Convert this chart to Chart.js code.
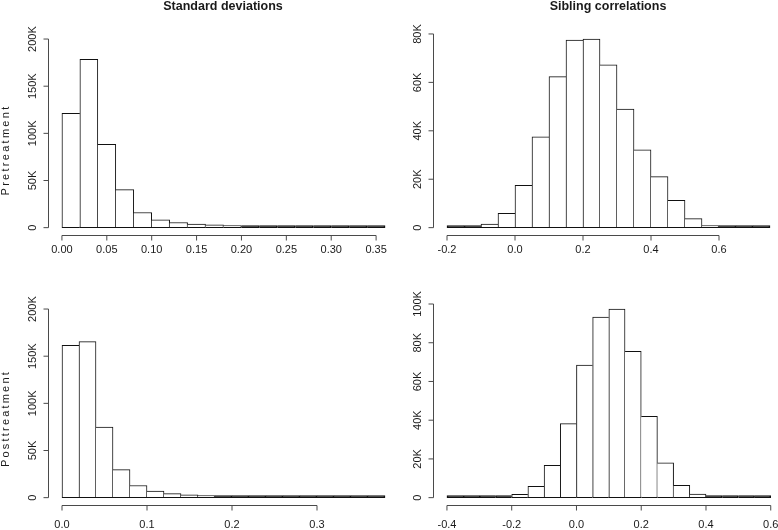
<!DOCTYPE html>
<html>
<head>
<meta charset="utf-8">
<script src="https://cdn.jsdelivr.net/npm/chart.js@4"></script>
<style>
  html, body { margin: 0; padding: 0; background: #fff; overflow: hidden; }
  body { width: 778px; height: 530px; position: relative; }
  canvas { position: absolute; left: 0; top: 0; }
</style>
</head>
<body>
<canvas id="sdPre" width="790" height="530"></canvas>
<canvas id="corPre" width="790" height="530"></canvas>
<canvas id="sdPost" width="790" height="530"></canvas>
<canvas id="corPost" width="790" height="530"></canvas>
<script>
// histogram bins (lower edges) and counts
const sdBinWidth = 0.02;
const corBinWidth = 0.05;

const sdPreBins = [0.00, 0.02, 0.04, 0.06, 0.08, 0.10, 0.12, 0.14, 0.16, 0.18, 0.20, 0.22, 0.24, 0.26, 0.28, 0.30, 0.32, 0.34];
const sdPreCounts = [121300, 178500, 88400, 40300, 16100, 8200, 5500, 3900, 2900, 1800, 800, 500, 300, 200, 150, 100, 80, 50];

const sdPostBins = [0.00, 0.02, 0.04, 0.06, 0.08, 0.10, 0.12, 0.14, 0.16, 0.18, 0.20, 0.22, 0.24, 0.26, 0.28, 0.30, 0.32, 0.34, 0.36];
const sdPostCounts = [161600, 165400, 74800, 29700, 12900, 6900, 4200, 2900, 1800, 800, 500, 300, 200, 150, 100, 80, 60, 40, 30];

const corPreBins = [-0.20, -0.15, -0.10, -0.05, 0.00, 0.05, 0.10, 0.15, 0.20, 0.25, 0.30, 0.35, 0.40, 0.45, 0.50, 0.55, 0.60, 0.65, 0.70];
const corPreCounts = [200, 400, 1500, 5900, 17500, 37500, 62400, 77500, 77900, 67200, 49000, 32100, 21100, 11300, 3700, 700, 200, 100, 50];

const corPostBins = [-0.40, -0.35, -0.30, -0.25, -0.20, -0.15, -0.10, -0.05, 0.00, 0.05, 0.10, 0.15, 0.20, 0.25, 0.30, 0.35, 0.40, 0.45, 0.50, 0.55];
const corPostCounts = [100, 100, 200, 400, 1700, 5800, 16700, 38200, 68500, 93300, 97400, 75600, 42000, 18000, 6400, 1900, 400, 200, 100, 50];

// axis ticks
const sdPreXTicks = [0, 0.05, 0.10, 0.15, 0.20, 0.25, 0.30, 0.35];
const sdPostXTicks = [0, 0.1, 0.2, 0.3];
const corPreXTicks = [-0.2, 0, 0.2, 0.4, 0.6];
const corPostXTicks = [-0.4, -0.2, 0, 0.2, 0.4, 0.6];
const sdYTicks = [0, 50000, 100000, 150000, 200000];
const corPreYTicks = [0, 20000, 40000, 60000, 80000];
const corPostYTicks = [0, 20000, 40000, 60000, 80000, 100000];

const W = 790, H = 530;
const FONT = '"Liberation Sans", Arial, Helvetica, sans-serif';

const kfmt = v => v === 0 ? '0' : (v / 1000) + 'K';

// R-style detached axes, drawn from the chart's own scales
const rAxes = {
  id: 'rAxes',
  afterDraw(chart, args, o) {
    const {ctx, chartArea: a, scales: {x, y}} = chart;
    ctx.save();
    ctx.strokeStyle = '#4a4a4a';
    ctx.lineWidth = 1;
    ctx.fillStyle = '#1a1a1a';

    // x axis
    const yb = Math.round(a.bottom) + 0.5;
    const xs = o.xTicks.map(v => x.getPixelForValue(v));
    ctx.beginPath();
    ctx.moveTo(xs[0], yb);
    ctx.lineTo(xs[xs.length - 1], yb);
    xs.forEach(px => { ctx.moveTo(px, yb); ctx.lineTo(px, yb + 5); });
    ctx.stroke();
    ctx.font = '11px ' + FONT;
    ctx.textAlign = 'center';
    ctx.textBaseline = 'alphabetic';
    o.xTicks.forEach((v, i) => ctx.fillText(v.toFixed(o.xDigits), xs[i], a.bottom + o.xLabelGap));

    // y axis
    const xl = Math.round(a.left) - 0.5;
    const ys = o.yTicks.map(v => y.getPixelForValue(v));
    ctx.beginPath();
    ctx.moveTo(xl, ys[0]);
    ctx.lineTo(xl, ys[ys.length - 1]);
    ys.forEach(py => { ctx.moveTo(xl, py); ctx.lineTo(xl - 5, py); });
    ctx.stroke();
    o.yTicks.forEach((v, i) => {
      ctx.save();
      ctx.translate(a.left - 13.5, ys[i]);
      ctx.rotate(-Math.PI / 2);
      ctx.fillText(kfmt(v), 0, 0);
      ctx.restore();
    });

    // title
    if (o.title) {
      ctx.font = 'bold 12.5px ' + FONT;
      ctx.fillText(o.title, o.titleX, 10);
    }
    // row label, letter-spaced like the original
    if (o.rowLabel) {
      ctx.font = '11px ' + FONT;
      const w = ctx.measureText(o.rowLabel).width;
      ctx.save();
      ctx.translate(9, o.rowLabelY);
      ctx.rotate(-Math.PI / 2);
      if ('letterSpacing' in ctx) {
        ctx.letterSpacing = ((o.rowLabelLen - w) / o.rowLabel.length).toFixed(2) + 'px';
      } else {
        ctx.scale(o.rowLabelLen / w, 1);
      }
      ctx.fillText(o.rowLabel, 0, 0);
      ctx.restore();
    }
    ctx.restore();
  }
};

function histogram(id, bins, width, counts, box, yTop, axes) {
  const lo = bins[0], hi = bins[bins.length - 1] + width;
  const xPad = 0.04 * (hi - lo);
  const yPad = 0.04 * yTop;
  const last = counts.length - 1;
  // each shared edge is drawn once, by the taller neighbour
  const edges = c => {
    const i = c.dataIndex;
    return {
      top: 1,
      bottom: 1,
      left: (i === 0 || counts[i] >= counts[i - 1]) ? 1 : 0,
      right: (i === last || counts[i] > counts[i + 1]) ? 1 : 0
    };
  };
  new Chart(document.getElementById(id), {
    type: 'bar',
    data: {
      datasets: [{
        data: bins.map((b, i) => ({x: b + width / 2, y: counts[i]})),
        // near-empty bins collapse to a dark line along the base, as in R
        backgroundColor: c => counts[c.dataIndex] < 0.006 * yTop ? '#222222' : '#ffffff',
        borderColor: '#111111',
        borderSkipped: false,
        borderWidth: edges,
        minBarLength: 2,
        barPercentage: 1,
        categoryPercentage: 1
      }]
    },
    options: {
      responsive: false,
      animation: false,
      events: [],
      layout: {padding: {left: box.l, right: W - box.r, top: box.t, bottom: H - box.b}},
      scales: {
        x: {type: 'linear', display: false, offset: false, min: lo - xPad, max: hi + xPad},
        y: {display: false, min: -yPad, max: yTop + yPad}
      },
      plugins: {legend: {display: false}, tooltip: {enabled: false}, rAxes: axes}
    },
    plugins: [rAxes]
  });
}

const topRow = {t: 31.5, b: 235.2};
const botRow = {t: 301.5, b: 505.2};

histogram('sdPre', sdPreBins, sdBinWidth, sdPreCounts, {l: 49, r: 398, ...topRow}, 200000, {
  xTicks: sdPreXTicks, xDigits: 2, xLabelGap: 18, yTicks: sdYTicks,
  title: 'Standard deviations', titleX: 223, rowLabel: 'Pretreatment', rowLabelY: 150, rowLabelLen: 91
});
histogram('corPre', corPreBins, corBinWidth, corPreCounts, {l: 434.08, r: 782.92, ...topRow}, Math.max(...corPreCounts), {
  xTicks: corPreXTicks, xDigits: 1, xLabelGap: 18, yTicks: corPreYTicks,
  title: 'Sibling correlations', titleX: 608
});
histogram('sdPost', sdPostBins, sdBinWidth, sdPostCounts, {l: 49.08, r: 397.92, ...botRow}, 200000, {
  xTicks: sdPostXTicks, xDigits: 1, xLabelGap: 23, yTicks: sdYTicks,
  rowLabel: 'Posttreatment', rowLabelY: 418.5, rowLabelLen: 97
});
histogram('corPost', corPostBins, corBinWidth, corPostCounts, {l: 434, r: 783.7, ...botRow}, Math.max(...corPostCounts), {
  xTicks: corPostXTicks, xDigits: 1, xLabelGap: 23, yTicks: corPostYTicks
});
</script>
</body>
</html>
